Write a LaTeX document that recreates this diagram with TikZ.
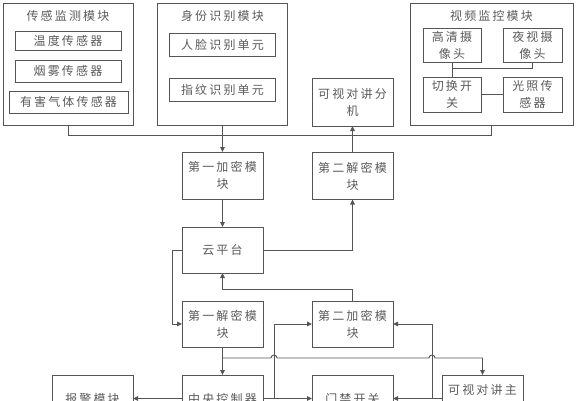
\documentclass[tikz,border=0pt]{standalone}
\usepackage{fontspec}
\newfontfamily\cjk[LetterSpace=18]{Noto Sans CJK SC}
\usetikzlibrary{arrows.meta}
\definecolor{linegray}{RGB}{85,85,85}
\definecolor{textgray}{RGB}{90,90,90}

\begin{document}
\begin{tikzpicture}[
      x=1pt, y=-1pt,
      every node/.style={font=\cjk\fontsize{12}{17}\selectfont, text=textgray, inner sep=0pt, outer sep=0pt, align=center},
      box/.style 2 args={rectangle, draw=linegray, line width=1pt, minimum width=#1, minimum height=#2},
      wire/.style={draw=linegray, line width=0.9pt},
      pointer/.style={wire, -{Triangle[length=5pt,width=4.5pt]}}
      ]
      \useasboundingbox (0,0) rectangle (576,400);
      \clip (0,0) rectangle (576,400);

      % top row groups
      \node[box={130pt}{122pt}] (sense) at (68,64) {};
      \node (senseT) at (68,16) {传感监测模块};
      \node[box={106pt}{19pt}] (temp) at (68,41) {温度传感器};
      \node[box={106pt}{22pt}] (smoke) at (68,71) {烟雾传感器};
      \node[box={119pt}{22pt}] (gas) at (68.5,102) {有害气体传感器};

      \node[box={130pt}{122pt}] (ident) at (222.5,64) {};
      \node (identT) at (222.5,16) {身份识别模块};
      \node[box={106pt}{23pt}] (face) at (222.5,44.5) {人脸识别单元};
      \node[box={106pt}{23pt}] (finger) at (222.5,89.5) {指纹识别单元};

      \node[box={163pt}{122pt}] (video) at (491.5,64) {};
      \node (videoT) at (491.5,16) {视频监控模块};
      \node[box={58pt}{34pt}] (hd) at (452,45) {高清摄\\像头};
      \node[box={59pt}{34pt}] (night) at (532.5,45) {夜视摄\\像头};
      \node[box={58pt}{35pt}] (switch) at (452,94.5) {切换开\\关};
      \node[box={59pt}{35pt}] (light) at (532.5,94.5) {光照传\\感器};

      % middle
      \node[box={81pt}{48pt}] (phoneExt) at (352.5,102) {可视对讲分\\机};
      \node[box={81pt}{47pt}] (enc1) at (222.5,175.5) {第一加密模\\块};
      \node[box={81pt}{47pt}] (dec2) at (352.5,176) {第二解密模\\块};
      \node[box={81pt}{46pt}] (cloud) at (222.5,250) {云平台};
      \node[box={81pt}{46pt}] (dec1) at (222.5,324) {第一解密模\\块};
      \node[box={81pt}{46pt}] (enc2) at (352.5,324) {第二加密模\\块};

      % bottom row
      \node[box={81pt}{47pt}] (alarm) at (92.5,398.5) {报警模块};
      \node[box={81pt}{47pt}] (ctrl) at (222.5,398.5) {中央控制器};
      \node[box={81pt}{47pt}] (door) at (352.5,398.5) {门禁开关};
      \node[box={81pt}{47pt}] (phoneMain) at (482.5,398.5) {可视对讲主\\\phantom{机}};

      \coordinate (tap) at (222.5,358);
      \coordinate (hopL) at (274,358);
      \coordinate (hopR) at (432,358);

      % video group wiring
      \draw[wire] (hd) -- (switch);
      \draw[wire] (night.south) -- ++(0,6) -| (hd.south);
      \draw[wire] (switch) -- (light);

      \draw[wire] (sense.south) -- ++(0,10) -| (video.south);
      \draw[pointer] (ident.south) -- (enc1.north);
      \draw[pointer] (dec2) -- (phoneExt);
      \draw[pointer] (enc1) -- (cloud);
      \draw[pointer] (cloud.east) -| (dec2.south);
      \draw[pointer] (cloud.west) -- ++(-10,0) |- (dec1.west);
      \draw[pointer] (enc2.north) -- ++(0,-12) -| (cloud.south);
      \draw[pointer] (dec1) -- (ctrl);
      \draw[pointer] (tap) -- ([xshift=-3pt]hopL) arc[start angle=180,end angle=360,radius=3]
        -- ([xshift=-3pt]hopR) arc[start angle=180,end angle=360,radius=3] -| (phoneMain.north);
      \draw[pointer] (ctrl) -- (alarm);
      \draw[pointer] (ctrl) -- (door);
      \draw[pointer] (phoneMain) -- (door);
      \draw[pointer] (ctrl.east -| hopL) |- (enc2.west);
      \draw[pointer] (phoneMain.west -| hopR) |- (enc2.east);
    \end{tikzpicture}
\end{document}
